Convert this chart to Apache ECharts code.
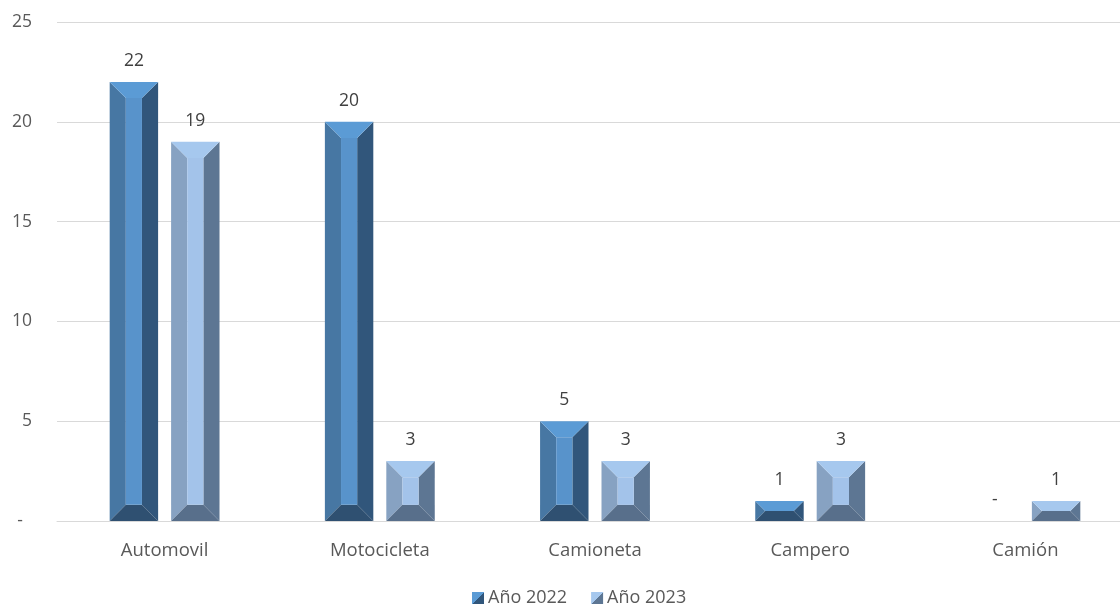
<!DOCTYPE html>
<html><head><meta charset="utf-8">
<script src="https://cdn.jsdelivr.net/npm/echarts@6/dist/echarts.min.js"></script>
<style>html,body{margin:0;padding:0;background:#fff;overflow:hidden;width:1120px;height:609px}#c{width:1133px;height:609px}</style>
</head><body><div id="c"></div>
<script>
const categories = ['Automovil', 'Motocicleta', 'Camioneta', 'Campero', 'Camión'];
const seriesNames = ['Año 2022', 'Año 2023'];
const values2022 = [22, 20, 5, 1, 0];
const values2023 = [19, 3, 3, 3, 1];
const yTicks = [0, 5, 10, 15, 20, 25];

const FONT = '"Open Sans", sans-serif';
const FS = 18;
const palettes = [
  {top:'#5b9bd5', left:'#4777a3', center:'#5893cb', right:'#31567b', bottom:'#2f5071'},
  {top:'#a6c8ee', left:'#87a2c2', center:'#a3c3ea', right:'#5d7693', bottom:'#586f8b'}
];

function makeRender(si){
  return function(params, api){
    const cat = api.value(0), val = api.value(1);
    const base = api.coord([cat, 0]);
    const top = api.coord([cat, val]);
    const band = api.size([1, 0])[0];
    const bw = band * 0.225;
    const off = band * 0.1427;
    const cx = base[0] + (si === 0 ? -off : off);
    const x0 = cx - bw/2, x1 = cx + bw/2, yT = top[1], yB = base[1];
    const h = yB - yT;
    const b = Math.min(bw/3, h/2);
    const p = palettes[si];
    const children = [];
    if (h > 0) {
      children.push({type:'polygon', shape:{points:[[x0,yT],[x0+b,yT+b],[x0+b,yB-b],[x0,yB]]}, style:{fill:p.left}});
      children.push({type:'polygon', shape:{points:[[x1,yT],[x1-b,yT+b],[x1-b,yB-b],[x1,yB]]}, style:{fill:p.right}});
      children.push({type:'polygon', shape:{points:[[x0,yT],[x1,yT],[x1-b,yT+b],[x0+b,yT+b]]}, style:{fill:p.top}});
      children.push({type:'polygon', shape:{points:[[x0,yB],[x1,yB],[x1-b,yB-b],[x0+b,yB-b]]}, style:{fill:p.bottom}});
      children.push({type:'rect', shape:{x:x0+b, y:yT+b, width:bw-2*b, height:Math.max(0,h-2*b)}, style:{fill:p.center}});
    }
    children.push({type:'text', style:{text: val === 0 ? '-' : String(val), x: cx, y: yT - 21, align:'center', verticalAlign:'middle', fill:'#404040', font:'17.5px ' + FONT}});
    return {type:'group', children};
  };
}

function legendColor(si){
  const p = palettes[si];
  return new echarts.graphic.LinearGradient(0,0,1,1,[
    {offset:0, color:p.top},{offset:0.5, color:p.top},{offset:0.5, color:p.right},{offset:1, color:p.right}]);
}

const chart = echarts.init(document.getElementById('c'));
chart.setOption({
  animation:false,
  grid:{left:57, right:0, top:22, bottom:88},
  legend:{top:589, left:472, padding:0, itemWidth:12, itemHeight:12, itemGap:24, icon:'rect',
    textStyle:{color:'#595959', fontSize:FS, fontFamily:FONT, padding:[0,0,0,-1]},
    data:seriesNames},
  xAxis:{type:'category', data:categories, axisTick:{show:false},
    axisLine:{lineStyle:{color:'#d9d9d9', width:1}},
    axisLabel:{color:'#595959', fontSize:18.5, fontFamily:FONT, margin:20}},
  yAxis:{type:'value', min:yTicks[0], max:yTicks[yTicks.length-1], interval:5,
    axisLine:{show:false}, axisTick:{show:false},
    splitLine:{lineStyle:{color:'#d9d9d9', width:1}},
    axisLabel:{color:'#595959', fontSize:17.5, fontFamily:FONT, margin:25,
      formatter: v => v === 0 ? '-  ' : String(v)}},
  series:[
    {name:seriesNames[0], type:'custom', renderItem:makeRender(0), itemStyle:{color:legendColor(0)},
      encode:{x:0, y:1}, data: values2022.map((v,i)=>[i,v])},
    {name:seriesNames[1], type:'custom', renderItem:makeRender(1), itemStyle:{color:legendColor(1)},
      encode:{x:0, y:1}, data: values2023.map((v,i)=>[i,v])}
  ]
});
</script></body></html>
